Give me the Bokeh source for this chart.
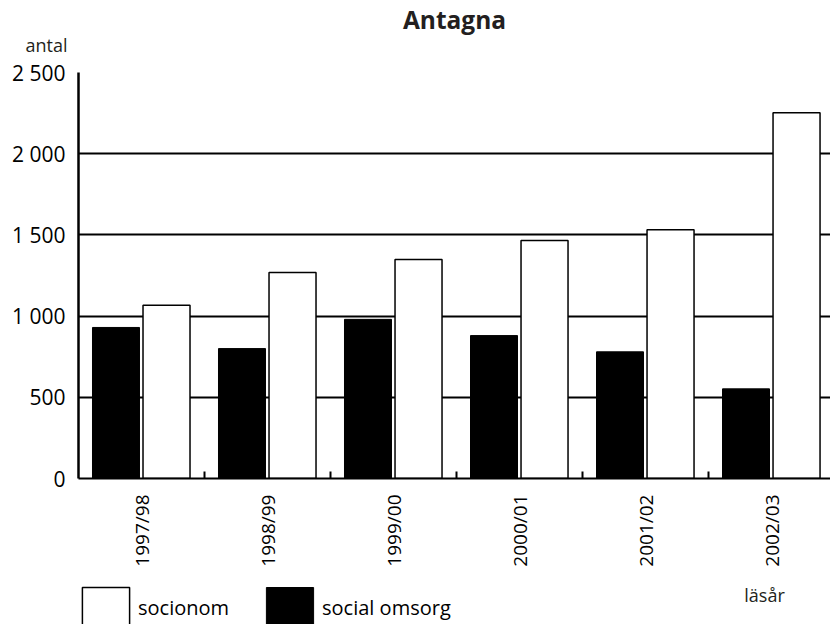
import numpy as np
from bokeh.plotting import figure
from bokeh.layouts import column
from bokeh.models import Range1d, FixedTicker, Label, Legend, LegendItem, Title
from bokeh.embed import file_html
from bokeh.resources import INLINE

years = ["1997/98", "1998/99", "1999/00", "2000/01", "2001/02", "2002/03"]
social_omsorg = [930, 800, 980, 880, 780, 552]
socionom = [1067, 1268, 1348, 1466, 1532, 2252]
y_ticks = [0, 500, 1000, 1500, 2000, 2500]
y_tick_labels = ["0", "500", "1 000", "1 500", "2 000", "2 500"]

FONT = "Open Sans"
TXT = "#231f20"

idx = np.arange(len(years))
W = 830
H1 = 580
H2 = 44
LEFT = 78

p = figure(width=W, height=H1, output_backend="svg", toolbar_location=None,
           x_range=Range1d(0, 5.968), y_range=Range1d(0, 2500),
           min_border_left=LEFT, min_border_right=0, min_border_top=72,
           min_border_bottom=H1 - 478)
p.outline_line_color = None
p.background_fill_color = "white"

p.xgrid.visible = False
p.ygrid.ticker = FixedTicker(ticks=y_ticks)
p.ygrid.grid_line_color = "black"
p.ygrid.grid_line_width = 2

black = p.vbar(x=idx + 0.2975, top=social_omsorg, width=0.373, bottom=0,
               fill_color="black", line_color="black", line_width=1)
white = p.vbar(x=idx + 0.6985, top=socionom, width=0.373, bottom=0,
               fill_color="white", line_color="black", line_width=1.5)

# y axis
ya = p.yaxis[0]
ya.ticker = FixedTicker(ticks=y_ticks)
ya.major_label_overrides = {t: l for t, l in zip(y_ticks, y_tick_labels)}
ya.major_tick_out = 0
ya.major_tick_in = 0
ya.minor_tick_out = 0
ya.minor_tick_in = 0
ya.axis_line_width = 2.5
ya.axis_line_color = "black"
ya.major_label_standoff = 13
ya.major_label_text_font = FONT
ya.major_label_text_font_size = "21px"
ya.major_label_text_color = "black"

# x axis
xa = p.xaxis[0]
xa.ticker = FixedTicker(ticks=list(idx + 0.5), minor_ticks=list(range(1, len(years))))
xa.major_label_overrides = {float(i + 0.5): y for i, y in zip(idx, years)}
xa.major_label_orientation = np.pi / 2
xa.major_tick_out = 0
xa.major_tick_in = 0
xa.minor_tick_in = 7
xa.minor_tick_out = 0
xa.minor_tick_line_width = 2
xa.minor_tick_line_color = "black"
xa.axis_line_width = 2
xa.axis_line_color = "black"
xa.major_label_standoff = 16
xa.major_label_text_font = FONT
xa.major_label_text_font_size = "19px"
xa.major_label_text_color = "black"

p.title.visible = False
p.add_layout(Title(text="antal", align="left", offset=-53, standoff=32,
                   text_font=FONT, text_font_size="18px", text_font_style="normal",
                   text_color=TXT), "above")
p.add_layout(Title(text="Antagna", align="center", standoff=-43,
                   text_font=FONT, text_font_size="24.5px", text_font_style="bold",
                   text_color=TXT), "above")

# legend strip below (its frame is aligned with the main frame by the column layout)
q = figure(width=W, height=H2, output_backend="svg", toolbar_location=None,
           x_range=Range1d(0, 1), y_range=Range1d(0, 1),
           min_border_left=0, min_border_right=0, min_border_top=0, min_border_bottom=0)
q.xaxis.visible = False
q.yaxis.visible = False
q.grid.visible = False
q.outline_line_color = None
q.title.visible = False
lw = q.vbar(x=[0.5], top=[0.6], bottom=[0.4], width=0.1,
            fill_color="white", line_color="black", line_width=1.5, visible=False)
lb = q.vbar(x=[0.5], top=[0.6], bottom=[0.4], width=0.1,
            fill_color="black", line_color="black", line_width=1, visible=False)

legend = Legend(items=[LegendItem(label="socionom", renderers=[lw]),
                       LegendItem(label="social omsorg", renderers=[lb])],
                orientation="horizontal", location=(76 - LEFT, -8),
                glyph_width=59, glyph_height=50, label_standoff=3, spacing=31,
                padding=0, margin=0, border_line_color=None, background_fill_alpha=0,
                inactive_fill_alpha=0,
                label_text_font=FONT, label_text_font_size="20px", label_text_color="black")
q.add_layout(legend, "center")
q.add_layout(Label(x=764 - LEFT, y=30, x_units="screen", y_units="screen", text="läsår",
                   text_align="center", text_baseline="middle", text_font=FONT,
                   text_font_size="18px", text_color=TXT))

layout = column(p, q, spacing=0)
open("out.html", "w").write(file_html(layout, INLINE))
